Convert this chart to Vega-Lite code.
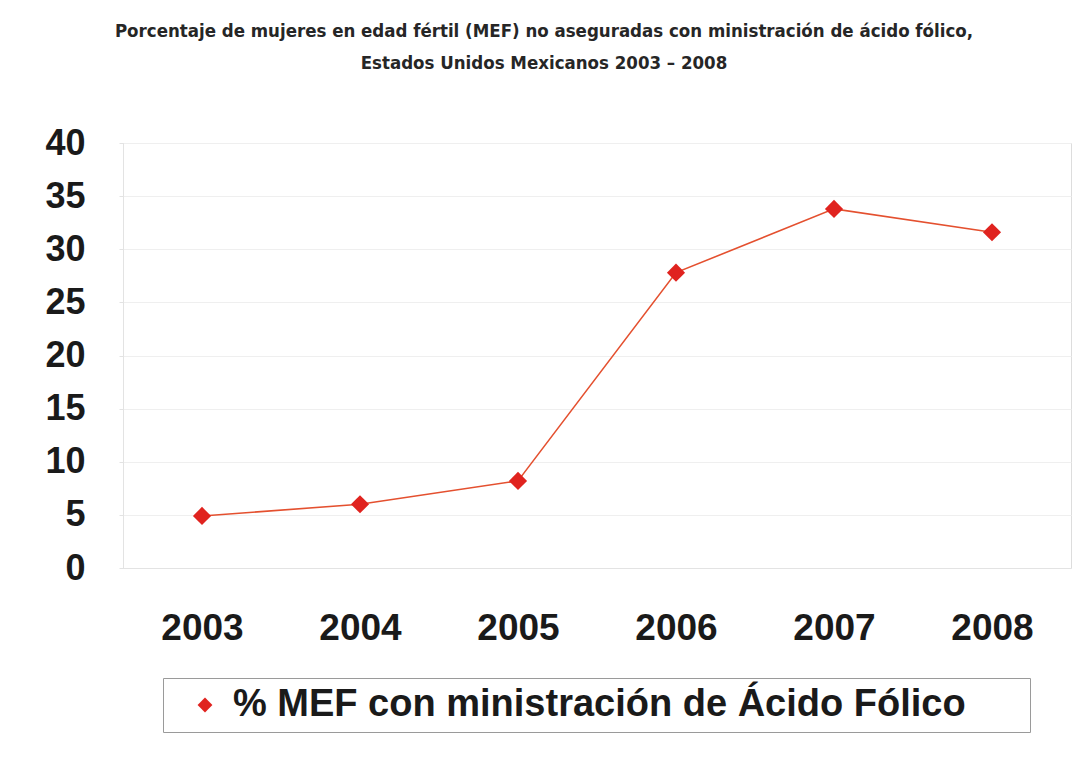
{
  "$schema": "https://vega.github.io/schema/vega-lite/v6.json",
  "autosize": {"type": "none"},
  "width": 948,
  "height": 425,
  "padding": {"left": 123, "top": 143, "right": 2, "bottom": 189},
  "background": "white",
  "title": {
    "text": ["Porcentaje de mujeres en edad fértil (MEF) no aseguradas con ministración de ácido fólico,", "Estados Unidos Mexicanos 2003 – 2008"],
    "font": "DejaVu Sans Condensed, Roboto Condensed, Roboto",
    "fontSize": 18.5,
    "fontWeight": "bold",
    "color": "#262626",
    "anchor": "middle",
    "dx": -53,
    "offset": 53,
    "lineHeight": 32
  },
  "data": {
    "values": [
      {"year": "2003", "value": 4.9, "serie": "% MEF con ministración de Ácido Fólico"},
      {"year": "2004", "value": 6.0, "serie": "% MEF con ministración de Ácido Fólico"},
      {"year": "2005", "value": 8.2, "serie": "% MEF con ministración de Ácido Fólico"},
      {"year": "2006", "value": 27.8, "serie": "% MEF con ministración de Ácido Fólico"},
      {"year": "2007", "value": 33.8, "serie": "% MEF con ministración de Ácido Fólico"},
      {"year": "2008", "value": 31.6, "serie": "% MEF con ministración de Ácido Fólico"}
    ]
  },
  "encoding": {
    "x": {
      "field": "year", "type": "ordinal",
      "scale": {"type": "point", "padding": 0.5},
      "axis": {
        "title": null, "labelAngle": 0, "ticks": false,
        "labelFont": "Liberation Sans", "labelFontSize": 37, "labelFontWeight": "bold",
        "labelColor": "#1a1a1a", "labelPadding": 42,
        "domainColor": "#e3e3e3", "grid": false
      }
    },
    "y": {
      "field": "value", "type": "quantitative",
      "scale": {"domain": [0, 40], "nice": false},
      "axis": {
        "title": null, "values": [0, 5, 10, 15, 20, 25, 30, 35, 40],
        "labelFont": "Liberation Sans", "labelFontSize": 36, "labelFontWeight": "bold",
        "labelColor": "#1a1a1a", "labelPadding": 34, "tickSize": 4, "tickColor": "#e3e3e3",
        "domainColor": "#e3e3e3", "gridColor": "#efefef"
      }
    }
  },
  "layer": [
    {
      "mark": {"type": "line", "color": "#e4502f", "strokeWidth": 1.6}
    },
    {
      "mark": {"type": "point", "filled": true, "opacity": 1, "size": 330},
      "encoding": {
        "color": {
          "field": "serie", "type": "nominal",
          "scale": {"range": ["#e0231f"]},
          "legend": {
            "title": null, "orient": "none", "legendX": 40, "legendY": 535,
            "labelFont": "Liberation Sans", "labelFontSize": 38, "labelFontWeight": "bold",
            "labelColor": "#1a1a1a", "symbolSize": 220, "symbolType": "diamond",
            "strokeColor": "#9a9a9a", "padding": 8, "symbolOffset": 15, "labelOffset": 9, "labelLimit": 2000,
            "labelExpr": "datum.label + '\u2800\u2800'"
          }
        },
        "shape": {
          "field": "serie", "type": "nominal",
          "scale": {"range": ["diamond"]},
          "legend": null
        }
      }
    }
  ]
}
